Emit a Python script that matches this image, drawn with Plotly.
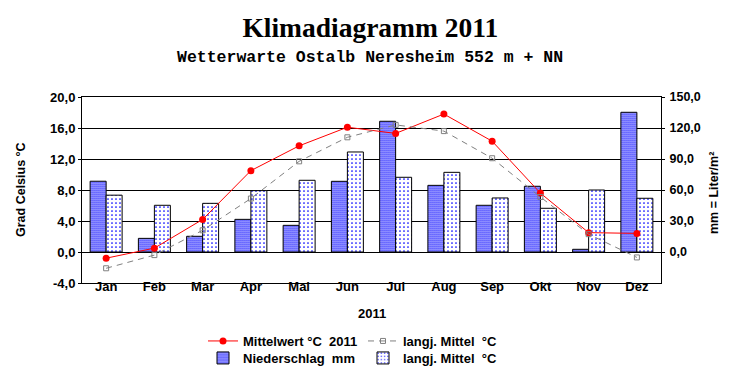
import plotly.graph_objects as go

months = ["Jan", "Feb", "Mar", "Apr", "Mai", "Jun", "Jul", "Aug", "Sep", "Okt", "Nov", "Dez"]
temp_2011 = [-0.8, 0.5, 4.2, 10.5, 13.7, 16.1, 15.3, 17.8, 14.3, 7.6, 2.5, 2.4]
temp_mean = [-2.1, -0.4, 2.8, 6.9, 11.7, 14.8, 16.4, 15.6, 12.1, 7.1, 2.3, -0.7]
precip_2011 = [68.5, 13.2, 15.2, 31.6, 25.8, 68.4, 126.5, 64.5, 45.2, 63.6, 2.6, 135.2]
precip_mean = [55.0, 45.2, 47.1, 59.4, 69.4, 96.8, 72.3, 77.1, 52.3, 42.3, 60.0, 52.0]

temp_ticks = [-4, 0, 4, 8, 12, 16, 20]
temp_ticktext = ["-4,0", "0,0", "4,0", "8,0", "12,0", "16,0", "20,0"]
mm_ticks = [0, 30, 60, 90, 120, 150]
mm_ticktext = ["0,0", "30,0", "60,0", "90,0", "120,0", "150,0"]

NB = "\u00a0"
FONT = "Arial, Liberation Sans, sans-serif"
W, H = 732, 380
L, R, T, B = 74, 79, 89, 105
PW, PH = W - L - R, H - T - B

fig = go.Figure()

fig.add_trace(go.Scatter(
    x=months, y=temp_2011, yaxis="y2", name="Mittelwert" + NB + "°C" + NB + NB + "2011",
    mode="lines+markers", line=dict(color="#ff0000", width=1),
    marker=dict(symbol="circle", size=7, color="#ff0000"), legend="legend",
    showlegend=True))
fig.add_trace(go.Scatter(
    x=months, y=temp_mean, yaxis="y2", name="langj." + NB + "Mittel" + NB + NB + "°C",
    mode="lines+markers", line=dict(color="#808080", width=1, dash="6px,5px"),
    marker=dict(symbol="square-open", size=5, color="#808080", line=dict(width=1)),
    legend="legend2", showlegend=True))
fig.add_trace(go.Bar(
    x=months, y=precip_2011, yaxis="y", name="Niederschlag" + NB + NB + "mm",
    marker=dict(color="#0000ff", line=dict(color="black", width=1),
                pattern=dict(shape=".", fgcolor="#0000ff", bgcolor="white",
                             size=2, solidity=0.6, fillmode="replace")),
    legend="legend3", showlegend=True))
fig.add_trace(go.Bar(
    x=months, y=precip_mean, yaxis="y", name="langj." + NB + "Mittel" + NB + NB + "°C",
    marker=dict(color="#0000ff", line=dict(color="black", width=1),
                pattern=dict(shape=".", fgcolor="#0000ff", bgcolor="white",
                             size=4, solidity=0.15, fillmode="replace")),
    legend="legend4", showlegend=True))

axis_font = dict(family=FONT, size=13, color="black", weight="bold")
leg_font = dict(family=FONT, size=13, color="black", weight="bold")


def leg(xpix, ypix):
    return dict(x=xpix / W, xref="container", xanchor="left",
                y=1 - ypix / H, yref="container", yanchor="middle",
                bgcolor="rgba(0,0,0,0)", font=leg_font, traceorder="normal")


fig.update_layout(
    width=W, height=H, showlegend=True,
    margin=dict(l=L, r=R, t=T, b=B, autoexpand=False),
    paper_bgcolor="white", plot_bgcolor="white",
    font=dict(family=FONT, size=13, color="black", weight="bold"),
    barmode="group", bargap=0.337, bargroupgap=0,
    title=dict(text="Klimadiagramm 2011", x=0.495, xref="container", xanchor="center",
               y=1 - 19 / H, yref="container", yanchor="middle",
               font=dict(family="Liberation Serif, Times New Roman, serif", size=27.5,
                         color="black", weight="bold")),
    xaxis=dict(type="category", categoryarray=months, range=[-0.5, 11.5],
               showline=True, linecolor="black", linewidth=1, mirror=True,
               ticks="", showgrid=False, tickfont=axis_font, automargin=False,
               ticklabelstandoff=-9),
    xaxis2=dict(overlaying="x", anchor="free", position=4 / 24, range=[-0.5, 11.5],
                tickvals=[i + 0.5 for i in range(11)], ticks="outside", ticklen=2,
                tickcolor="black", showticklabels=False, showline=False, showgrid=False,
                zeroline=False, side="bottom", automargin=False),
    xaxis3=dict(overlaying="x", anchor="free", position=4 / 24, range=[-0.5, 11.5],
                tickvals=[i + 0.5 for i in range(11)], ticks="outside", ticklen=2,
                tickcolor="black", showticklabels=False, showline=False, showgrid=False,
                zeroline=False, side="top", automargin=False),
    yaxis=dict(range=[-30, 150], tickvals=mm_ticks, ticktext=mm_ticktext, side="right",
               showline=True, linecolor="black", linewidth=1, automargin=False,
               ticks="outside", ticklen=3, tickcolor="black", ticklabelstandoff=2,
               showgrid=True, gridcolor="black", gridwidth=1, zeroline=False,
               tickfont=dict(family=FONT, size=12.5, color="black", weight="bold")),
    yaxis2=dict(range=[-4, 20], tickvals=temp_ticks, ticktext=temp_ticktext, side="left",
                overlaying="y", showline=True, linecolor="black", linewidth=1,
                ticks="outside", ticklen=3, tickcolor="black", showgrid=False,
                zeroline=False, tickfont=axis_font, automargin=False),
    legend=leg(195, 333),
    legend2=leg(355, 333),
    legend3=leg(195, 350),
    legend4=leg(355, 350),
    annotations=[
        dict(text="Wetterwarte Ostalb Neresheim 552 m + NN", xref="paper", yref="paper",
             x=(362 - L) / PW, y=(H - B - 50) / PH, xanchor="center", yanchor="middle",
             showarrow=False,
             font=dict(family="Liberation Mono, Courier New, monospace", size=16.5,
                       color="black", weight="bold")),
        dict(text="Grad Celsius °C", xref="paper", yref="paper", textangle=-90,
             x=(13 - L) / PW, y=(H - B - 182) / PH, xanchor="center", yanchor="middle",
             showarrow=False, font=dict(family=FONT, size=12.5, color="black", weight="bold")),
        dict(text="mm = Liter/m²", xref="paper", yref="paper", textangle=-90,
             x=(706 - L) / PW, y=(H - B - 185) / PH, xanchor="center", yanchor="middle",
             showarrow=False, font=dict(family=FONT, size=12.5, color="black", weight="bold")),
        dict(text="2011", xref="paper", yref="paper",
             x=0.5, y=(H - B - 305) / PH, xanchor="center", yanchor="middle",
             showarrow=False, font=axis_font),
    ],
)

fig.write_html("out.html")
